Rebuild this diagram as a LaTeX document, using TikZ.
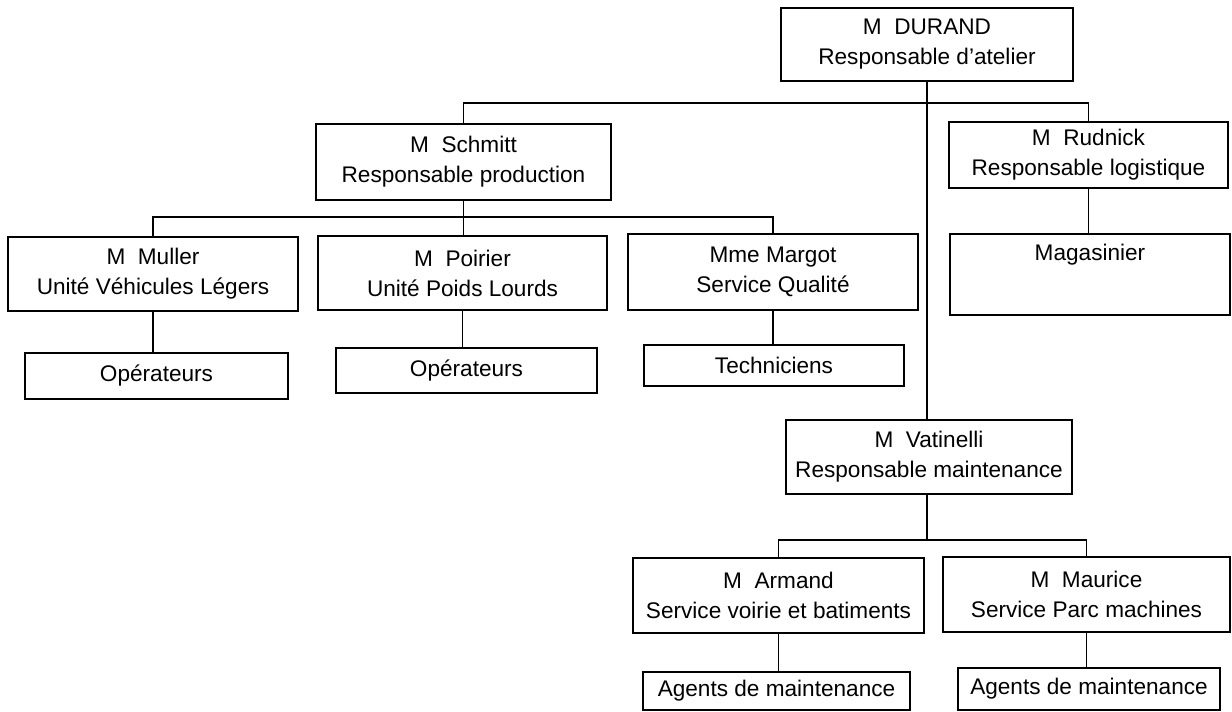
\documentclass[tikz,border=0pt]{standalone}
\usepackage{fontspec}
\setmainfont{Liberation Sans}
\usepackage{tikz}

\begin{document}
\begin{tikzpicture}[x=0.5pt,y=-0.5pt,
	box/.style={draw, line width=0.75pt, inner sep=0pt, align=center,
		font=\fontsize{11.3}{15}\selectfont},
	link/.style={line width=0.75pt}]

	\useasboundingbox (0,0) rectangle (1232,712);

	% direction
	\node[box, minimum width=146pt, minimum height=36.5pt] (durand) at (927,44.5) {M\ \ DURAND\\Responsable d'atelier};

	\node[box, minimum width=147.5pt, minimum height=38pt] (schmitt) at (463.5,162) {M\ \ Schmitt\\Responsable production};
	\node[box, minimum width=139.5pt, minimum height=33pt] (rudnick) at (1088.5,155) {M\ \ Rudnick\\Responsable logistique};

	\node[box, minimum width=145pt, minimum height=37pt] (muller) at (153,274) {M\ \ Muller\\Unité Véhicules Légers};
	\node[box, minimum width=144.5pt, minimum height=37pt] (poirier) at (462.5,273) {M\ \ Poirier\\Unité Poids Lourds};
	\node[box, minimum width=145pt, minimum height=38pt] (margot) at (773,272) {Mme Margot\\Service Qualité};
	\node[box, minimum width=140pt, text height=13pt, text depth=27.5pt] (magasin) at (1090,274.5) {Magasinier};

	\node[box, minimum width=131.5pt, minimum height=23pt] (op1) at (156.5,376) {Opérateurs};
	\node[box, minimum width=130.5pt, minimum height=22.5pt] (op2) at (466.5,370.5) {Opérateurs};
	\node[box, minimum width=130pt, minimum height=20.5pt] (tech) at (774,365.5) {Techniciens};

	% maintenance
	\node[box, minimum width=143pt, minimum height=37pt] (vatinelli) at (929,457) {M\ \ Vatinelli\\Responsable maintenance};
	\node[box, minimum width=145.5pt, minimum height=37.5pt] (armand) at (778.5,595.5) {M\ \ Armand\\Service voirie et batiments};
	\node[box, minimum width=143.5pt, minimum height=37.5pt] (maurice) at (1086.5,594.5) {M\ \ Maurice\\Service Parc machines};
	\node[box, minimum width=133.5pt, minimum height=19pt] (agents1) at (776.5,691) {Agents de maintenance};
	\node[box, minimum width=131pt, minimum height=21pt] (agents2) at (1089,689) {Agents de maintenance};

	\coordinate (bar1) at (927,103);
	\coordinate (bar2) at (462,217);
	\coordinate (bar3) at (927,540);

	\draw[link] (durand.south) -- (durand.south |- vatinelli.north);
	\draw[link] (schmitt.north) |- (bar1) -| (rudnick.north);
	\draw[link] (schmitt.south) -- (schmitt.south |- poirier.north);
	\draw[link] (muller.north) |- (bar2) -| (margot.north);
	\draw[link] (rudnick.south) -- (rudnick.south |- magasin.north);

	\draw[link] (muller.south) -- (muller.south |- op1.north);
	\draw[link] (poirier.south) -- (poirier.south |- op2.north);
	\draw[link] (margot.south) -- (margot.south |- tech.north);

	\draw[link] (bar3 |- vatinelli.south) -- (bar3);
	\draw[link] (armand.north) |- (bar3) -| (maurice.north);
	\draw[link] (armand.south) -- (armand.south |- agents1.north);
	\draw[link] (maurice.south) -- (maurice.south |- agents2.north);

\end{tikzpicture}
\end{document}
